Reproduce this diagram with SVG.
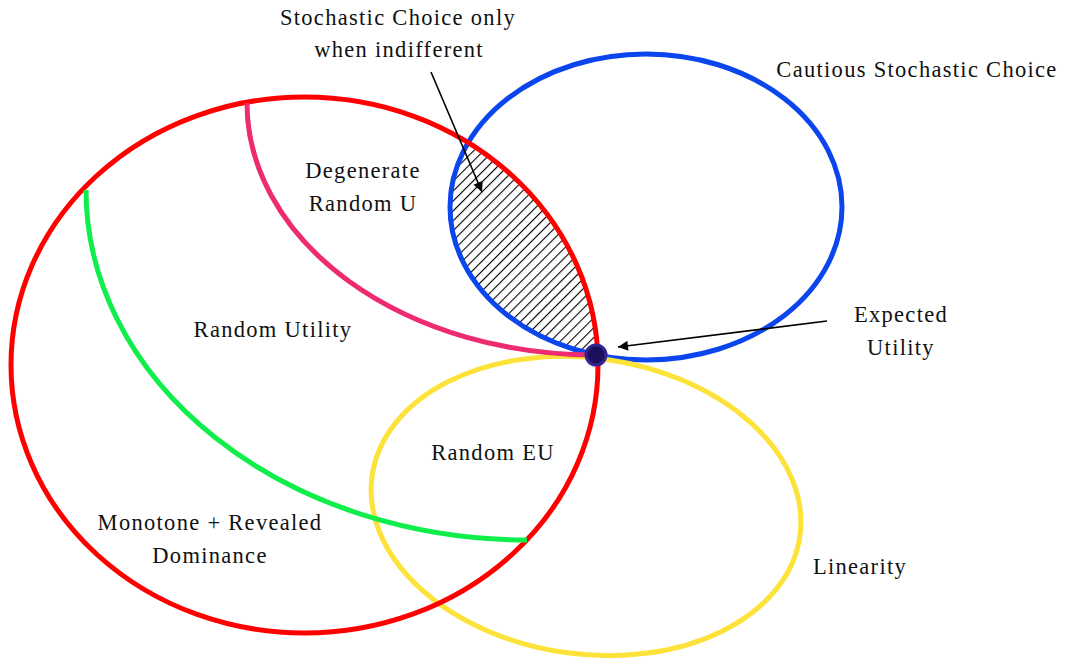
<svg xmlns="http://www.w3.org/2000/svg" width="1065" height="660" viewBox="0 0 1065 660">
<style>
.t{font-family:"Liberation Serif","DejaVu Serif",serif;font-size:22.5px;letter-spacing:1.3px;fill:#111;text-anchor:middle}
.c{fill:none;stroke-width:5}
.a{stroke:#000;stroke-width:1.6;fill:none}
</style>
<defs>
<pattern id="hatch" patternUnits="userSpaceOnUse" width="7" height="7" patternTransform="rotate(45)">
<line x1="0" y1="0" x2="0" y2="7" stroke="#000" stroke-width="2.2"/>
</pattern>
<clipPath id="clipRed"><ellipse cx="304.5" cy="365" rx="293.5" ry="268"/></clipPath>
<clipPath id="clipBlue"><ellipse cx="646" cy="207" rx="196" ry="153"/></clipPath>
<marker id="arr" viewBox="0 0 10 10" refX="10" refY="5" markerWidth="14" markerHeight="10" markerUnits="userSpaceOnUse" orient="auto">
<path d="M0,0 L10,5 L0,10 z" fill="#000"/>
</marker>
</defs>
<rect width="1065" height="660" fill="#fff"/>
<g id="hatched-region" clip-path="url(#clipRed)">
<rect x="400" y="50" width="250" height="320" fill="url(#hatch)" clip-path="url(#clipBlue)"/>
</g>
<g id="cautious-stochastic-choice">
<ellipse class="c" cx="646" cy="207" rx="196" ry="153" stroke="#0a45ee"/>
</g>
<g id="linearity">
<ellipse class="c" cx="586" cy="506" rx="216" ry="148" transform="rotate(8 586 506)" stroke="#fde23a"/>
</g>
<g id="monotone-revealed-dominance">
<ellipse class="c" cx="304.5" cy="365" rx="293.5" ry="268" stroke="#ff0000"/>
</g>
<g id="random-utility">
<path class="c" d="M86,190 A441,350 0 0,0 527,540" stroke="#10ee4c"/>
</g>
<g id="degenerate-random-u">
<path class="c" d="M247,103 A348,252 0 0,0 595,355" stroke="#ee2a70"/>
</g>
<g id="expected-utility">
<circle cx="596" cy="355" r="10" fill="#1e0f5c" stroke="#2f2692" stroke-width="3"/>
</g>
<g id="connectors">
<line class="a" x1="431" y1="72" x2="482" y2="192" marker-end="url(#arr)"/>
<line class="a" x1="827" y1="321" x2="618" y2="347" marker-end="url(#arr)"/>
</g>
<g id="labels">
<text class="t" x="398" y="25">Stochastic Choice only</text>
<text class="t" x="399" y="57">when indifferent</text>
<text class="t" x="917" y="77">Cautious Stochastic Choice</text>
<text class="t" x="363" y="178">Degenerate</text>
<text class="t" x="363" y="211">Random U</text>
<text class="t" x="273" y="337">Random Utility</text>
<text class="t" x="901" y="322">Expected</text>
<text class="t" x="901" y="355">Utility</text>
<text class="t" x="493" y="460">Random EU</text>
<text class="t" x="210" y="530">Monotone + Revealed</text>
<text class="t" x="210" y="563">Dominance</text>
<text class="t" x="860" y="574">Linearity</text>
</g>
</svg>
